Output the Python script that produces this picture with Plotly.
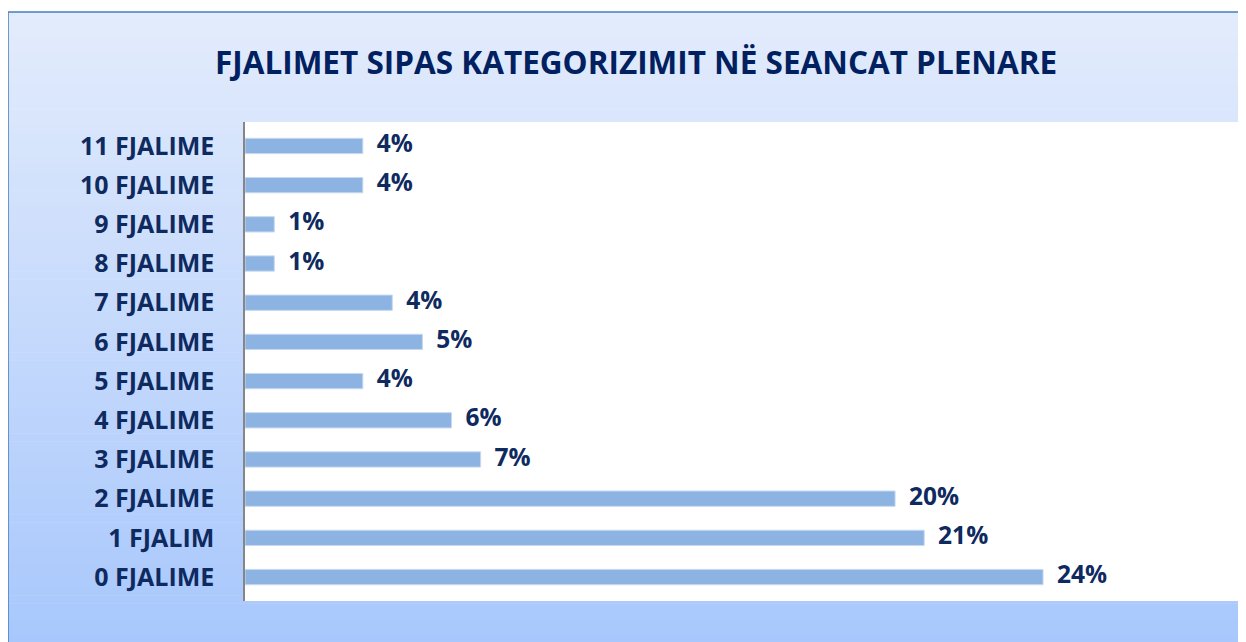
import plotly.graph_objects as go

categories = ["0 FJALIME", "1 FJALIM", "2 FJALIME", "3 FJALIME", "4 FJALIME", "5 FJALIME",
              "6 FJALIME", "7 FJALIME", "8 FJALIME", "9 FJALIME", "10 FJALIME", "11 FJALIME"]
percentages = [24.11, 20.52, 19.64, 7.12, 6.24, 3.56, 5.36, 4.45, 0.885, 0.885, 3.56, 3.56]
title_text = "FJALIMET SIPAS KATEGORIZIMIT NË SEANCAT PLENARE"

# the page body has an 8px margin; work in page pixels and shift
OFF = 8
W, H = 1246 - OFF, 642 - OFF
L, R, T, B = 245 - OFF, 1238 - OFF, 122 - OFF, 601 - OFF
PW, PH = R - L, B - T
XMAX = 30.0

def px_x(p):
    return (p - OFF - L) / PW

def px_y(p):
    return (B - (p - OFF)) / PH

NAVY = "#0e2a5f"
FONT = "Open Sans, sans-serif"

fig = go.Figure()
fig.add_trace(go.Bar(
    x=percentages, y=categories, orientation="h",
    marker=dict(color="#8db3e2", line=dict(color="#c6d9f1", width=1)),
    hoverinfo="skip", showlegend=False,
))
label_offset = 0.42
fig.add_trace(go.Scatter(
    x=[v + label_offset for v in percentages], y=categories, mode="text",
    text=[f"{round(v)}%" for v in percentages], textposition="middle right",
    textfont=dict(family=FONT, size=24.5, color=NAVY, weight="bold"),
    cliponaxis=False, hoverinfo="skip", showlegend=False,
))

# gradient background frame
shapes = []
top_c = (227, 236, 252)
bot_c = (166, 198, 252)
y0, y1 = 12, 660
n = 80
for i in range(n):
    a = y0 + (y1 - y0) * i / n
    b = y0 + (y1 - y0) * (i + 1) / n
    t = (i + 0.5) / n
    c = tuple(round(top_c[k] + (bot_c[k] - top_c[k]) * t) for k in range(3))
    shapes.append(dict(type="rect", xref="paper", yref="paper",
                       x0=px_x(8), x1=px_x(1270), y0=px_y(a), y1=px_y(b + 0.5),
                       fillcolor=f"rgb{c}", line=dict(width=0), layer="below"))
shapes.append(dict(type="rect", xref="paper", yref="paper",
                   x0=px_x(8), x1=px_x(1270), y0=px_y(12), y1=px_y(670),
                   fillcolor="rgba(0,0,0,0)", line=dict(color="#4a7ebb", width=1.5), layer="below"))
shapes.append(dict(type="rect", xref="paper", yref="paper", x0=0, x1=1, y0=0, y1=1,
                   fillcolor="white", line=dict(width=0), layer="below"))

fig.update_layout(
    width=W, height=H,
    margin=dict(l=L, r=W - R, t=T, b=H - B, pad=0),
    paper_bgcolor="white", plot_bgcolor="rgba(0,0,0,0)",
    bargap=0.61,
    shapes=shapes,
    xaxis=dict(range=[0, XMAX], showgrid=False, zeroline=False, showticklabels=False,
               showline=False, ticks="", fixedrange=True),
    yaxis=dict(categoryorder="array", categoryarray=categories, showgrid=False,
               showline=True, linecolor="#868686", linewidth=1.5, ticks="",
               ticklabelstandoff=24,
               tickfont=dict(family=FONT, size=25, color=NAVY, weight="bold"),
               fixedrange=True),
    annotations=[dict(text=title_text, xref="paper", yref="paper",
                      x=px_x(636), y=px_y(62), xanchor="center", yanchor="middle",
                      showarrow=False,
                      font=dict(family=FONT, size=31.5, color="#002060", weight="bold"))],
)

fig.write_html("out.html")
